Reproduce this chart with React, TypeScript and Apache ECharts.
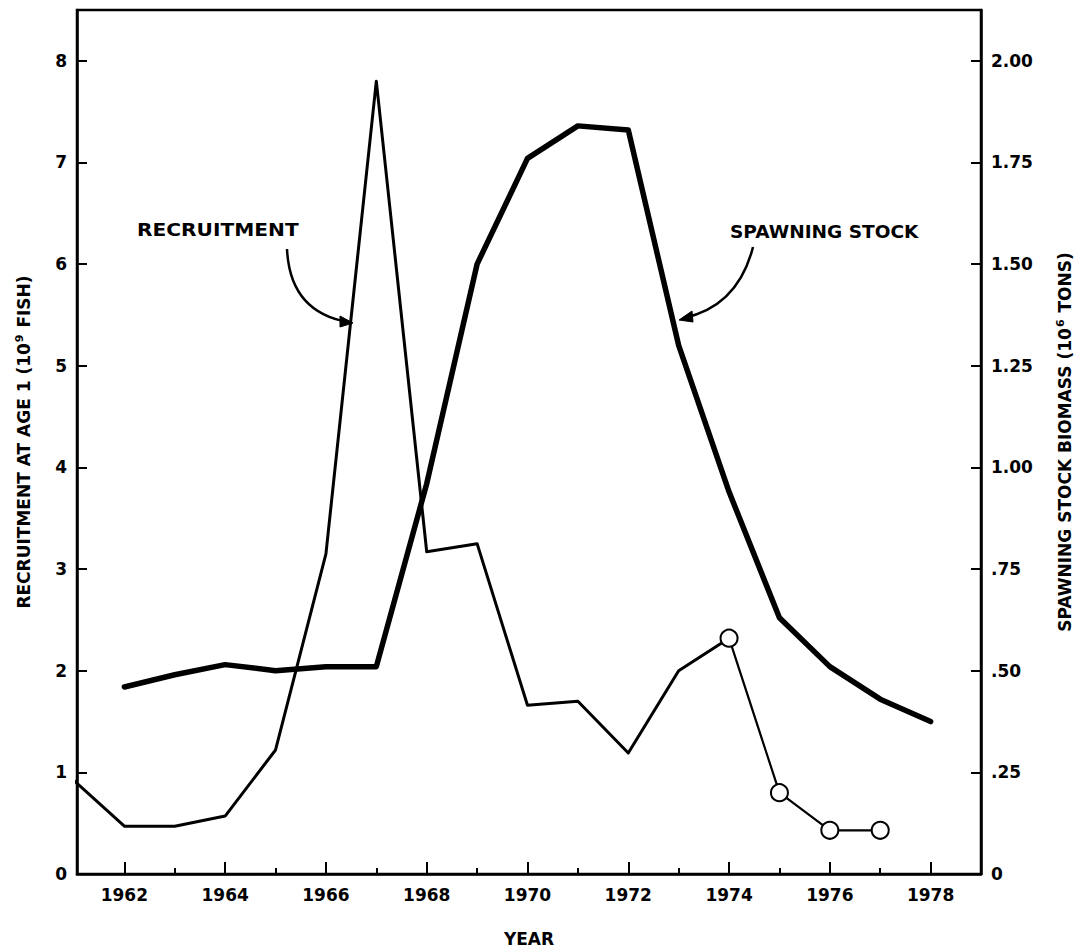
import React, { useEffect, useRef } from "react";
import * as echarts from "echarts";

const recruitmentYears = [1961, 1962, 1963, 1964, 1965, 1966, 1967, 1968, 1969, 1970, 1971, 1972, 1973, 1974];
const recruitmentValues = [0.92, 0.47, 0.47, 0.57, 1.22, 3.15, 7.8, 3.17, 3.25, 1.66, 1.7, 1.19, 2.0, 2.32];

const estimateYears = [1974, 1975, 1976, 1977];
const estimateValues = [2.32, 0.8, 0.43, 0.43];

const stockYears = [1962, 1963, 1964, 1965, 1966, 1967, 1968, 1969, 1970, 1971, 1972, 1973, 1974, 1975, 1976, 1977, 1978];
const stockValues = [0.46, 0.49, 0.515, 0.5, 0.51, 0.51, 0.96, 1.5, 1.76, 1.84, 1.83, 1.3, 0.94, 0.63, 0.51, 0.43, 0.375];

const yearTicks = [1962, 1963, 1964, 1965, 1966, 1967, 1968, 1969, 1970, 1971, 1972, 1973, 1974, 1975, 1976, 1977, 1978];
const yearLabels = [1962, 1964, 1966, 1968, 1970, 1972, 1974, 1976, 1978];
const leftTicks = [0, 1, 2, 3, 4, 5, 6, 7, 8];
const rightTicks = [0, 0.25, 0.5, 0.75, 1.0, 1.25, 1.5, 1.75, 2.0];
const rightTickLabels = ["0", ".25", ".50", ".75", "1.00", "1.25", "1.50", "1.75", "2.00"];

const FONT = "DejaVu Sans";

export default function App() {
  const ref = useRef<HTMLDivElement>(null);

  useEffect(() => {
    if (!ref.current) return;
    const chart = echarts.init(ref.current, undefined, { renderer: "svg" });

    const pair = (xs: number[], ys: number[]) => xs.map((x, i) => [x, ys[i]]);

    const option: any = {
      animation: false,
      backgroundColor: "#fff",
      grid: {
        left: 77,
        right: 105,
        top: 10,
        bottom: 76,
        show: true,
        borderColor: "#000",
        borderWidth: 2.5,
        backgroundColor: "transparent",
      },
      xAxis: [
        {
          type: "value",
          min: 1961.06,
          max: 1979,
          name: "YEAR",
          nameLocation: "middle",
          nameGap: 56,
          nameTextStyle: { fontFamily: FONT, fontSize: 17, fontWeight: "bold", color: "#000" },
          axisLine: { show: true, lineStyle: { color: "#000", width: 2.5 } },
          axisTick: { show: true, inside: true, length: 6, customValues: yearTicks, lineStyle: { color: "#000", width: 2 } },
          axisLabel: {
            show: true,
            customValues: yearLabels,
            margin: 12,
            fontFamily: FONT,
            fontSize: 17,
            fontWeight: "bold",
            color: "#000",
            formatter: (v: number) => String(Math.round(v)),
          },
          splitLine: { show: false },
        },
        {
          type: "value",
          position: "bottom",
          min: 1961.06,
          max: 1979,
          axisLine: { show: false },
          axisTick: { show: true, inside: true, length: 12, customValues: yearLabels, lineStyle: { color: "#000", width: 2 } },
          axisLabel: { show: false },
          splitLine: { show: false },
        },
      ],
      yAxis: [
        {
          type: "value",
          min: 0,
          max: 8.5,
          position: "left",
          name: "RECRUITMENT AT AGE 1 (10{sup|9} FISH)",
          nameLocation: "middle",
          nameRotate: 90,
          nameGap: 44,
          nameTextStyle: {
            fontFamily: FONT,
            fontSize: 17,
            fontWeight: "bold",
            color: "#000",
            rich: { sup: { fontFamily: FONT, fontSize: 11, fontWeight: "bold", color: "#000", verticalAlign: "top", padding: [0, 1, 8, 1] } },
          },
          axisLine: { show: true, lineStyle: { color: "#000", width: 2.5 } },
          axisTick: { show: true, inside: true, length: 10, customValues: leftTicks, lineStyle: { color: "#000", width: 2 } },
          axisLabel: {
            show: true,
            customValues: leftTicks,
            margin: 10,
            fontFamily: FONT,
            fontSize: 17,
            fontWeight: "bold",
            color: "#000",
            formatter: (v: number) => String(Math.round(v)),
          },
          splitLine: { show: false },
        },
        {
          type: "value",
          min: 0,
          max: 2.125,
          position: "right",
          name: "SPAWNING STOCK BIOMASS (10{sup|6} TONS)",
          nameLocation: "middle",
          nameRotate: 90,
          nameGap: 74,
          nameTextStyle: {
            fontFamily: FONT,
            fontSize: 17,
            fontWeight: "bold",
            color: "#000",
            rich: { sup: { fontFamily: FONT, fontSize: 11, fontWeight: "bold", color: "#000", verticalAlign: "top", padding: [0, 1, 8, 1] } },
          },
          axisLine: { show: true, lineStyle: { color: "#000", width: 2.5 } },
          axisTick: { show: true, inside: true, length: 10, customValues: rightTicks, lineStyle: { color: "#000", width: 2 } },
          axisLabel: {
            show: true,
            customValues: rightTicks,
            margin: 10,
            fontFamily: FONT,
            fontSize: 17,
            fontWeight: "bold",
            color: "#000",
            formatter: (v: number) => {
              const i = rightTicks.findIndex((t) => Math.abs(t - v) < 1e-6);
              return i >= 0 ? rightTickLabels[i] : "";
            },
          },
          splitLine: { show: false },
        },
      ],
      series: [
        {
          name: "Recruitment",
          type: "line",
          xAxisIndex: 0,
          yAxisIndex: 0,
          data: pair(recruitmentYears, recruitmentValues),
          showSymbol: false,
          symbol: "none",
          lineStyle: { color: "#000", width: 3, join: "round" },
          z: 3,
        },
        {
          name: "Recruitment (estimated)",
          type: "line",
          xAxisIndex: 0,
          yAxisIndex: 0,
          data: pair(estimateYears, estimateValues),
          symbol: "emptyCircle",
          symbolSize: 17,
          showSymbol: true,
          itemStyle: { color: "#000", borderColor: "#000", borderWidth: 2.5 },
          lineStyle: { color: "#000", width: 2.2 },
          z: 4,
        },
        {
          name: "Spawning stock",
          type: "line",
          xAxisIndex: 0,
          yAxisIndex: 1,
          data: pair(stockYears, stockValues),
          symbol: "none",
          lineStyle: { color: "#000", width: 5.5, join: "round", cap: "round" },
          z: 3,
        },
      ],
      graphic: [
        {
          type: "text",
          x: 137,
          y: 230,
          scaleX: 1.12,
          style: { text: "RECRUITMENT", fontFamily: FONT, fontSize: 18, fontWeight: "bold", fill: "#000", align: "left", verticalAlign: "middle" },
        },
        {
          type: "bezierCurve",
          shape: { x1: 287, y1: 249, cpx1: 290, cpy1: 312, x2: 348, y2: 322 },
          style: { stroke: "#000", lineWidth: 2.5, fill: null },
        },
        {
          type: "polygon",
          shape: { points: [[353, 323], [340, 316], [340, 327]] },
          style: { fill: "#000", stroke: "#000", lineWidth: 1 },
        },
        {
          type: "text",
          x: 730,
          y: 232,
          scaleX: 1.03,
          style: { text: "SPAWNING STOCK", fontFamily: FONT, fontSize: 18, fontWeight: "bold", fill: "#000", align: "left", verticalAlign: "middle" },
        },
        {
          type: "bezierCurve",
          shape: { x1: 753, y1: 247, cpx1: 738, cpy1: 306, x2: 684, y2: 318 },
          style: { stroke: "#000", lineWidth: 2.5, fill: null },
        },
        {
          type: "polygon",
          shape: { points: [[679, 320], [692, 311], [693, 322]] },
          style: { fill: "#000", stroke: "#000", lineWidth: 1 },
        },
      ],
    };

    chart.setOption(option);
    return () => chart.dispose();
  }, []);

  return (
    <div
      ref={ref}
      style={{ position: "fixed", left: 0, top: 0, width: 1086, height: 952, background: "#fff" }}
    />
  );
}
